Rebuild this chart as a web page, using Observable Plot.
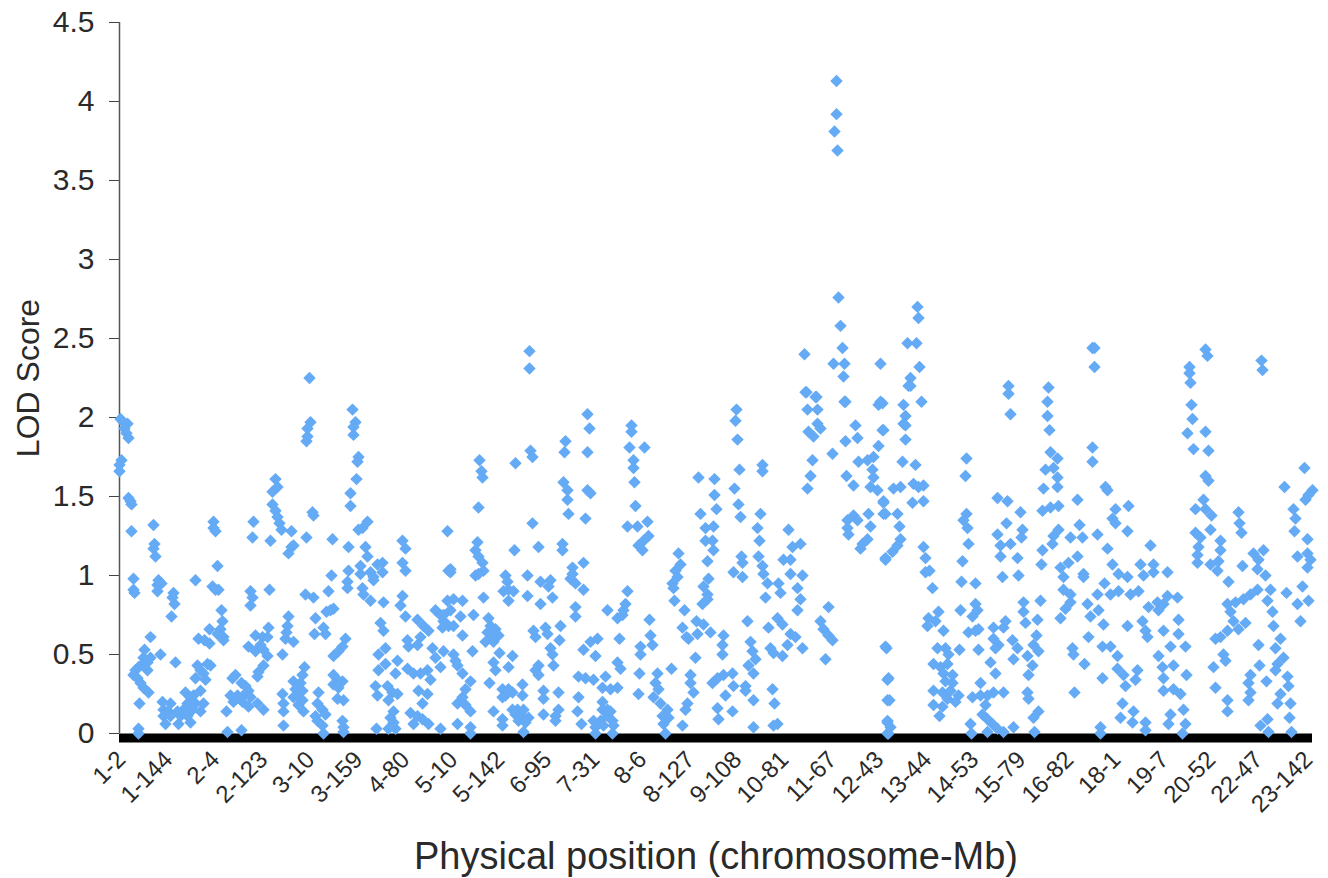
<!DOCTYPE html>
<html><head><meta charset="utf-8">
<style>html,body{margin:0;padding:0;background:#fff}</style>
<script src="https://cdn.jsdelivr.net/npm/d3@7"></script>
<script src="https://cdn.jsdelivr.net/npm/@observablehq/plot@0.6"></script>
</head><body><div id="c"></div>
<script>
const markerLabels=["1-2","1-144","2-4","2-123","3-10","3-159","4-80","5-10","5-142","6-95","7-31","8-6","8-127","9-108","10-81","11-67","12-43","13-44","14-53","15-79","16-82","18-1","19-7","20-52","22-47","23-142"];
const labelMarkers=[2,49,96,144,191,239,286,334,381,428,476,523,571,618,665,713,760,808,855,902,950,997,1045,1092,1139,1189];
const yTicks=[0,0.5,1,1.5,2,2.5,3,3.5,4,4.5];
// [marker index, LOD]
const chromosomesA=[[1,1.99],[4,1.97],[8,1.96],[5,1.93],[7,1.90],[9,1.87],[2,1.73],[0,1.70],[0,1.66],[9,1.49],[11,1.47],[12,1.45],[12,1.28],[14,.98],[14,.91],[15,.89],[19,.03],[19,0],[25,.53],[31,.61],[41,.5],[24,.48],[31,.48],[28,.45],[23,.44],[19,.42],[16,.4],[28,.4],[14,.37],[18,.35],[21,.32],[24,.29],[29,.26],[20,.19],[34,1.32],[35,1.2],[34,1.17],[36,1.12],[39,.97],[38,.94],[42,.95],[38,.9],[54,.89],[53,.86],[55,.82],[52,.74],[56,.45],[43,.2],[51,.19],[44,.15],[49,.14],[44,.11],[51,.11],[46,.06],[59,.06],[71,.07],[61,.11],[68,.11],[64,.15],[73,.15],[81,.14],[68,.19],[76,.19],[84,.19],[66,.26],[74,.24],[81,.27],[71,.23],[58,.14],[76,.35],[84,.38],[78,.43],[91,.43],[86,.34],[88,.44],[81,.4],[76,.97],[79,.6],[85,.59],[90,.57],[94,1.34],[94,1.3],[96,1.28],[98,1.06],[93,.93],[96,.91],[99,.91],[102,.78],[103,.71],[101,.66],[90,.66],[98,.63],[104,.61],[104,.59],[108,.01],[107,.14],[116,.37],[113,.35],[122,.32],[126,.3],[129,.27],[111,.24],[118,.24],[124,.24],[131,.23],[114,.2],[123,.2],[129,.17],[138,.19],[144,.15],[122,.02],[134,1.34],[133,1.24],[131,.9],[133,.86],[131,.81],[129,.55],[136,.62],[143,.61],[149,.67],[148,.61],[141,.56],[136,.52],[144,.53],[148,.49],[144,.43],[139,.39],[138,.36],[156,1.61],[158,1.56],[153,1.53],[153,1.45],[156,1.41],[158,1.37],[160,1.33],[162,1.29],[151,1.22],[172,1.28],[150,.91],[172,1.18],[169,1.14],[174,1.19],[169,.74],[168,.68],[167,.64],[166,.6],[174,.58],[163,.5],[185,.42],[163,.25],[164,.19],[164,.14],[164,.05],[183,.37],[174,.33],[181,.32],[176,.28],[183,.27],[178,.24],[183,.21],[174,.23],[179,.18],[184,.14],[187,1.24],[193,1.4],[194,1.38],[186,.88],[194,.86],[196,.73],[195,.63],[204,.67],[206,.63],[209,.9],[212,1],[213,1.23],[211,.78],[214,.79],[207,.77],[226,.6],[223,.55],[219,.52],[214,.49],[214,.37],[218,.34],[214,.31],[223,.33],[219,.29],[218,.22],[224,.21],[199,.26],[198,.19],[203,.15],[198,.08],[203,.05],[204,0],[206,.12],[196,.11],[223,.08],[224,.04],[224,.01],[190,2.25],[191,1.97],[188,1.93],[188,1.88],[187,1.85]];
const chromosomesB=[[233,2.05],[236,1.97],[234,1.94],[234,1.89],[239,1.75],[238,1.72],[237,1.61],[231,1.52],[231,1.44],[229,1.18],[229,1.03],[228,.96],[228,.92],[248,1.34],[243,1.3],[239,1.29],[246,1.18],[248,1.12],[241,1.06],[258,1.07],[263,1.08],[251,1.02],[263,1.02],[254,.99],[243,.92],[244,.88],[251,.84],[264,.83],[241,1.01],[254,.97],[261,.7],[264,.65],[266,.54],[259,.5],[266,.44],[259,.4],[256,.3],[268,.3],[258,.24],[273,.26],[269,.21],[278,.25],[257,.03],[274,.14],[271,.1],[274,.07],[276,.03],[269,.03],[283,1.22],[286,1.17],[283,1.08],[286,1.03],[283,.87],[281,.81],[286,.74],[278,.46],[276,.38],[288,.59],[289,.55],[288,.41],[294,.38],[301,.38],[308,.4],[311,.34],[298,.72],[304,.68],[309,.65],[301,.61],[298,.56],[313,.54],[316,.48],[321,.42],[324,.52],[299,.27],[308,.25],[303,.19],[291,.13],[298,.11],[294,.06],[303,.09],[309,.06],[321,.03],[328,1.28],[329,1.03],[316,.78],[321,.75],[328,.84],[324,.71],[329,.68],[331,1.02],[331,1.04],[334,.85],[343,.84],[324,.75],[331,.78],[341,.74],[326,.7],[334,.68],[323,.67],[343,.62],[334,.5],[336,.46],[338,.43],[343,.38],[354,.75],[353,.52],[351,.33],[346,.28],[343,.23],[338,.19],[346,.18],[351,.14],[338,.06],[351,.04],[351,0],[360,1.73],[362,1.66],[363,1.62],[359,1.43],[358,1.21],[356,1.16],[359,1.12],[363,1.08],[364,1.03],[356,1],[359,1.01],[364,.86],[369,.73],[371,.68],[376,.66],[368,.64],[373,.61],[379,.62],[366,.58],[374,.58],[380,.51],[393,.49],[374,.45],[389,.42],[376,.4],[370,.32],[383,.28],[389,.28],[386,.24],[393,.26],[403,.31],[403,.24],[383,.23],[374,.14],[383,.09],[383,.05],[393,.15],[398,.15],[404,.15],[396,.12],[403,.11],[409,.1],[399,.08],[406,.07],[404,.01]];
const chromosomesC=[[410,2.42],[410,2.31],[396,1.71],[411,1.79],[413,1.75],[413,1.33],[419,1.18],[395,1.16],[386,1],[388,.96],[389,.91],[384,.9],[394,.9],[389,.84],[408,1],[408,.87],[421,.96],[421,.82],[431,.97],[429,.93],[433,.86],[426,.67],[428,.63],[414,.65],[416,.61],[441,.68],[440,.59],[431,.54],[433,.5],[434,.43],[419,.43],[416,.4],[419,.37],[424,.27],[424,.22],[439,.26],[439,.15],[436,.11],[436,.08],[424,.12],[443,1.2],[443,1.16],[446,1.85],[445,1.78],[444,1.59],[448,1.54],[448,1.48],[449,1.39],[468,2.02],[470,1.93],[468,1.78],[468,1.54],[471,1.52],[466,1.36],[453,1.05],[453,1.01],[451,.98],[456,.95],[464,1.08],[464,.91],[456,.8],[456,.74],[478,.6],[471,.58],[464,.53],[476,.49],[459,.36],[466,.35],[474,.34],[459,.23],[458,.14],[462,.06],[486,.36],[483,.29],[483,.2],[483,.15],[474,.08],[481,.08],[488,.11],[493,.08],[476,.04],[484,.05],[494,.05],[476,0],[493,0],[488,.15],[491,.14],[488,.78],[498,.73],[503,.75],[506,.82],[508,.9],[504,.78],[500,.6],[498,.45],[501,.41],[498,.29],[491,.28],[512,1.95],[512,1.91],[510,1.81],[514,1.73],[514,1.68],[515,1.59],[516,1.44],[525,1.81],[508,1.31],[518,1.31],[528,1.34],[529,1.25],[524,1.22],[519,1.19],[523,1.16],[530,.72],[531,.62],[521,.55],[533,.56],[521,.5],[520,.38],[519,.25],[538,.38],[552,.41],[536,.32],[539,.28],[534,.23],[541,.19],[548,.15],[543,.11],[549,.1],[544,.06],[546,0],[559,1.14],[561,1.07],[556,1.03],[558,.99],[553,.95],[554,.92],[555,.84],[565,.78],[563,.67],[567,.61],[569,.6],[577,.71],[584,.69],[578,.63],[591,.64],[604,.62],[603,.56],[603,.5],[576,.48],[571,.37],[571,.32],[574,.26],[568,.19],[566,.15],[563,.05],[613,.38],[604,.37],[598,.35],[593,.32],[614,.3],[606,.24],[598,.16],[613,.14],[599,.09],[579,1.62],[595,1.61],[595,1.51],[597,1.42],[581,1.39],[586,1.3],[594,1.31],[586,1.22],[593,1.22],[594,1.16],[588,1.09],[589,.98],[584,.93],[588,.88],[588,.85],[583,.82]];
const chromosomesD=[[617,2.05],[616,1.98],[618,1.86],[620,1.67],[615,1.55],[619,1.45],[621,1.37],[622,1.12],[623,1.08],[614,1.02],[623,.99],[628,.71],[631,.58],[633,.52],[636,.47],[629,.43],[634,.38],[626,.3],[626,.27],[634,.21],[634,.04],[641,1.39],[638,1.3],[640,1.22],[643,1.7],[643,1.66],[639,1.12],[643,1.06],[644,1.01],[648,.95],[646,.86],[659,.95],[661,.89],[669,1.29],[664,1.1],[673,1.18],[681,1.2],[671,1.1],[671,1.01],[683,1],[678,.92],[681,.85],[678,.78],[649,.67],[658,.73],[663,.69],[671,.63],[668,.56],[651,.54],[654,.51],[663,.49],[676,.61],[683,.54],[653,.28],[655,.19],[654,.05],[658,.06],[709,.8],[701,.71],[704,.66],[709,.62],[713,.59],[706,.47],[687,2.16],[697,2.13],[688,2.05],[698,2.05],[698,1.96],[701,1.93],[689,1.91],[694,1.88],[693,1.73],[691,1.63],[688,1.55],[725,2.1],[736,1.95],[738,1.87],[726,1.85],[713,1.77],[759,2.08],[763,1.92],[759,1.82],[754,1.75],[748,1.73],[739,1.72],[727,1.63],[734,1.57],[753,1.67],[754,1.62],[751,1.56],[758,1.54],[764,1.47],[764,1.39],[734,1.38],[749,1.39],[728,1.35],[728,1.3],[729,1.26],[751,1.31],[748,1.23],[743,1.2],[741,1.17],[766,1.11],[738,1.35],[766,.55],[768,.34],[768,.21],[768,.08],[768,0],[717,4.13],[717,3.92],[715,3.81],[718,3.69],[719,2.76],[721,2.58],[723,2.44],[714,2.34],[725,2.34],[724,2.26],[685,2.4],[686,2.16],[696,2.13],[761,2.34],[798,2.7],[799,2.63],[788,2.47],[797,2.47],[800,2.32],[791,2.25],[789,2.2],[726,2.1],[761,2.1]];
const chromosomesE=[[791,2.2],[763,2.09],[784,2.08],[802,2.1],[786,2.01],[784,1.96],[786,1.95],[764,1.92],[786,1.86],[783,1.72],[796,1.7],[774,1.55],[781,1.56],[794,1.58],[804,1.57],[799,1.56],[793,1.46],[804,1.47],[764,1.46],[766,1.39],[778,1.39],[780,1.31],[781,1.23],[778,1.19],[773,1.15],[766,1.1],[804,1.18],[806,1.11],[810,1.03],[806,1.02],[813,.92],[809,.73],[819,.77],[816,.71],[808,.68],[824,.65],[767,.54],[769,.35],[770,.21],[768,.07],[771,.04],[769,0],[818,.54],[826,.54],[829,.5],[840,.53],[814,.44],[821,.42],[828,.44],[824,.38],[833,.37],[833,.32],[826,.33],[814,.27],[823,.26],[831,.27],[839,.24],[828,.22],[814,.18],[823,.17],[836,.2],[820,.11],[847,1.74],[846,1.63],[847,1.39],[844,1.35],[848,1.3],[849,1.2],[843,1.09],[842,.96],[856,.95],[841,.78],[856,.82],[858,.78],[853,.74],[859,.66],[849,.64],[856,.65],[859,.53],[871,.45],[876,.38],[861,.32],[874,.26],[884,.26],[868,.24],[853,.23],[861,.24],[866,.18],[863,.12],[868,.09],[851,.06],[873,.06],[852,0],[868,.01],[884,.01],[878,.03],[894,.04],[874,.67],[886,.71],[884,.67],[874,.6],[879,.56],[876,.54],[889,2.2],[889,2.15],[891,2.02],[878,1.49],[888,1.47],[901,1.4],[887,1.33],[878,1.26],[903,1.29],[902,1.24],[891,1.2],[881,1.19],[881,1.12],[898,1.11],[883,.99],[899,1],[904,.83],[921,.84],[904,.77],[906,.7],[918,.72],[917,.62],[893,.59],[898,.54],[894,.47],[914,.56],[908,.49],[919,.52],[913,.43],[909,.37],[908,.26],[909,.22],[919,.14],[914,.1],[915,.01],[929,2.19],[928,2.1],[928,2.01],[930,1.92],[931,1.78],[938,1.74],[926,1.67],[934,1.68],[938,1.62],[924,1.55],[938,1.56],[923,1.41],[931,1.43],[939,1.44],[958,1.48],[960,1.32],[939,1.29],[934,1.25],[933,1.2],[951,1.24],[963,1.24],[923,1.16],[958,1.12],[922,1.07],[941,1.05],[949,1.08],[944,.99],[964,1.01],[964,.99],[944,.91],[951,.88],[951,.83],[946,.79],[941,.73],[953,.54],[954,.5],[965,.44],[955,.26],[981,.04],[981,0]];
const chromosomesF=[[973,2.44],[975,2.44],[975,2.32],[973,1.81],[973,1.72],[986,1.56],[988,1.54],[996,1.42],[993,1.36],[996,1.33],[1009,1.44],[1008,1.28],[978,1.26],[988,1.17],[993,1.07],[999,1.01],[1008,.99],[985,.95],[978,.88],[991,.88],[999,.9],[1011,.88],[1019,.9],[968,.82],[979,.78],[971,.74],[984,.69],[969,.61],[983,.55],[991,.55],[998,.49],[998,.41],[1004,.37],[1006,.3],[983,.35],[1018,.4],[1016,.34],[1003,.19],[1014,.14],[1001,.1],[1013,.07],[1026,.07],[1026,.02],[1008,.68],[1023,.71],[1026,.65],[1028,.61],[1031,1.19],[1021,1.07],[1034,1.07],[1024,1],[1034,1.02],[1048,1.02],[1058,.86],[1048,.87],[1038,.83],[1029,.8],[1039,.78],[1044,.82],[1059,.72],[1044,.65],[1059,.63],[1051,.55],[1066,.55],[1039,.49],[1054,.43],[1043,.42],[1044,.35],[1067,.37],[1044,.27],[1054,.28],[1061,.25],[1064,.15],[1051,.12],[1049,.06],[1066,.06],[1063,0],[1070,2.32],[1070,2.28],[1086,2.43],[1088,2.39],[1071,2.22],[1072,2.08],[1073,1.99],[1068,1.9],[1086,1.91],[1074,1.8],[1089,1.79],[1086,1.63],[1089,1.6],[1084,1.48],[1076,1.42],[1086,1.42],[1092,1.38],[1091,1.29],[1076,1.27],[1081,1.24],[1079,1.18],[1101,1.22],[1101,1.16],[1078,1.13],[1078,1.08],[1091,1.07],[1099,1.09],[1098,1.03],[1109,.96],[1108,.82],[1116,.83],[1124,.85],[1138,.91],[1131,.88],[1111,.77],[1114,.71],[1126,.7],[1119,.66],[1108,.65],[1101,.61],[1096,.6],[1104,.5],[1106,.46],[1094,.42],[1096,.29],[1108,.21],[1108,.14],[1142,2.36],[1143,2.3],[1119,1.4],[1120,1.33],[1122,1.27],[1144,1.16],[1134,1.14],[1139,1.1],[1123,1.06],[1138,1.04],[1146,1],[1151,.91],[1148,.84],[1167,.89],[1153,.77],[1154,.68],[1139,.56],[1161,.6],[1156,.54],[1164,.48],[1158,.44],[1140,.43],[1131,.37],[1129,.32],[1131,.26],[1129,.21],[1147,.33],[1156,.4],[1168,.36],[1169,.3],[1161,.25],[1158,.19],[1171,.19],[1170,.1],[1148,.09],[1141,.05],[1149,.01],[1172,.01],[1165,1.56],[1185,1.68],[1193,1.54],[1189,1.51],[1186,1.48],[1174,1.42],[1176,1.36],[1175,1.28],[1188,1.23],[1188,1.14],[1178,1.12],[1191,1.1],[1188,1.05],[1183,.93],[1178,.82],[1189,.84],[1181,.71]];
const markers=[...chromosomesA,...chromosomesB,...chromosomesC,...chromosomesD,...chromosomesE,...chromosomesF];
const ink="#2a2a2a";
const chart=Plot.plot({
  width:1328,height:878,marginLeft:119,marginRight:16,marginTop:22,marginBottom:145,
  style:{fontFamily:"'Liberation Sans',Arial,sans-serif",background:"#fff"},
  x:{domain:[0,1193]},y:{domain:[0,4.5]},
  marks:[
    Plot.axisY({ticks:yTicks,tickSize:10,tickPadding:15,fontSize:30,label:null,tickFormat:d=>String(d),color:ink,stroke:"#444"}),
    Plot.ruleX([0],{y1:0,y2:4.5,stroke:"#555",strokeWidth:1.5}),
    Plot.ruleY([0],{x1:0,x2:1193,stroke:"#000",strokeWidth:9,dy:4.5}),
    Plot.axisX({ticks:labelMarkers,tickFormat:d=>markerLabels[labelMarkers.indexOf(d)],tickRotate:-45,tickSize:0,tickPadding:22,fontSize:24,label:null,color:ink}),
    Plot.dot(markers,{x:d=>d[0],y:d=>d[1],symbol:"diamond2",r:5.6,fill:"#64aaf5",stroke:"none"}),
    Plot.text(["LOD Score"],{frameAnchor:"left",textAnchor:"middle",rotate:-90,dx:-91,fontSize:32,fill:ink}),
    Plot.text(["Physical position (chromosome-Mb)"],{frameAnchor:"bottom",dy:135,fontSize:38,fill:ink})
  ]
});
document.getElementById("c").appendChild(chart);
</script></body></html>
